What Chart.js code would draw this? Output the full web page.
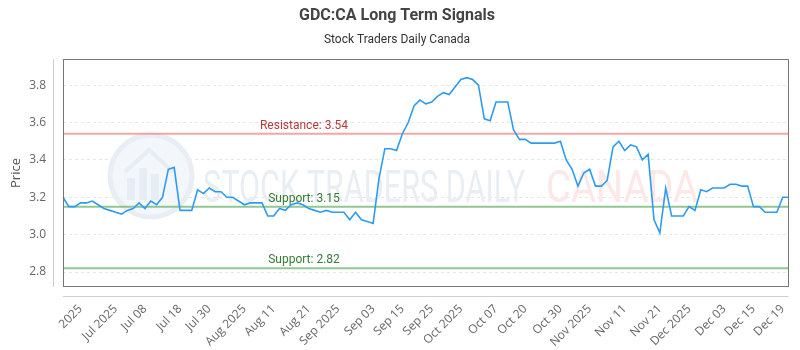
<!DOCTYPE html>
<html>
<head>
<meta charset="utf-8">
<script src="https://cdn.jsdelivr.net/npm/chart.js@4.4.0/dist/chart.umd.min.js"></script>
<style>
  html, body { margin: 0; padding: 0; background: #fff; }
</style>
</head>
<body>
<canvas id="signalChart" width="800" height="350"></canvas>
<script>
// daily closes
const prices = [
  3.20, 3.15, 3.15, 3.17, 3.17, 3.18, 3.16, 3.14, 3.13, 3.12,
  3.11, 3.13, 3.14, 3.17, 3.14, 3.18, 3.16, 3.20, 3.35, 3.36,
  3.13, 3.13, 3.13, 3.24, 3.22, 3.25, 3.23, 3.23, 3.20, 3.20,
  3.18, 3.16, 3.17, 3.17, 3.17, 3.10, 3.10, 3.14, 3.13, 3.16,
  3.17, 3.16, 3.14, 3.13, 3.12, 3.13, 3.12, 3.12, 3.12, 3.08,
  3.12, 3.08, 3.07, 3.06, 3.30, 3.46, 3.46, 3.45, 3.54, 3.60,
  3.69, 3.72, 3.70, 3.71, 3.74, 3.76, 3.75, 3.79, 3.83, 3.84,
  3.83, 3.80, 3.62, 3.61, 3.71, 3.71, 3.71, 3.56, 3.51, 3.51,
  3.49, 3.49, 3.49, 3.49, 3.49, 3.50, 3.40, 3.35, 3.26, 3.33,
  3.35, 3.26, 3.26, 3.29, 3.47, 3.50, 3.45, 3.48, 3.47, 3.40,
  3.43, 3.08, 3.01, 3.25, 3.10, 3.10, 3.10, 3.15, 3.13, 3.24,
  3.23, 3.25, 3.25, 3.25, 3.27, 3.27, 3.26, 3.26, 3.15, 3.15,
  3.12, 3.12, 3.12, 3.20, 3.20
];

// which points carry a date label, and the label text
const tickIndex = [3, 9, 14, 20, 25, 31, 36, 42, 47, 53, 58, 63, 68, 74, 79, 85, 90, 96, 102, 107, 113, 118, 123];
const tickLabels = ['2025', 'Jul 2025', 'Jul 08', 'Jul 18', 'Jul 30', 'Aug 2025', 'Aug 11', 'Aug 21',
  'Sep 2025', 'Sep 03', 'Sep 15', 'Sep 25', 'Oct 2025', 'Oct 07', 'Oct 20', 'Oct 30', 'Nov 2025',
  'Nov 11', 'Nov 21', 'Dec 2025', 'Dec 03', 'Dec 15', 'Dec 19'];

// signal levels
const levelValues = [3.54, 3.15, 2.82];
const levelNames = ['Resistance', 'Support', 'Support'];

const levelStyle = [
  { line: 'rgba(238, 120, 120, 0.65)', text: '#b33a3a' },
  { line: 'rgba(110, 180, 110, 0.75)', text: '#357a35' },
  { line: 'rgba(110, 180, 110, 0.75)', text: '#357a35' }
];

const watermark = {
  id: 'watermark',
  beforeDatasetsDraw(chart) {
    const ctx = chart.ctx;
    const ca = chart.chartArea;
    ctx.save();
    // round logo
    const cx = ca.left + 88, cy = ca.top + 117;
    ctx.fillStyle = '#f3f6fb';
    ctx.beginPath();
    ctx.arc(cx, cy, 41, 0, Math.PI * 2);
    ctx.fill();
    ctx.strokeStyle = '#e9eef5';
    ctx.lineWidth = 5;
    ctx.stroke();
    ctx.fillStyle = '#e7edf5';
    ctx.fillRect(cx - 24, cy + 2, 8, 22);
    ctx.fillRect(cx - 12, cy - 8, 8, 32);
    ctx.fillRect(cx, cy - 2, 8, 26);
    ctx.beginPath();
    ctx.moveTo(cx - 26, cy - 4);
    ctx.lineTo(cx - 2, cy - 26);
    ctx.lineTo(cx + 22, cy - 4);
    ctx.lineWidth = 4;
    ctx.strokeStyle = '#e7edf5';
    ctx.stroke();

    // brand text, squeezed to a condensed width
    const drawSqueezed = (txt, x, w, color) => {
      ctx.font = '44px Roboto';
      const m = ctx.measureText(txt).width;
      ctx.save();
      ctx.translate(x, ca.top + 143);
      ctx.scale(w / m, 1);
      ctx.fillStyle = color;
      ctx.textBaseline = 'alphabetic';
      ctx.fillText(txt, 0, 0);
      ctx.restore();
    };
    drawSqueezed('STOCK TRADERS DAILY', ca.left + 140, 322, '#e9eef5');
    drawSqueezed('CANADA', ca.left + 483, 152, '#fde7e7');
    ctx.restore();
  }
};

const signalLevels = {
  id: 'signalLevels',
  beforeDatasetsDraw(chart) {
    const ctx = chart.ctx;
    const ca = chart.chartArea;
    const y = chart.scales.y;
    ctx.save();
    levelValues.forEach((v, i) => {
      const py = y.getPixelForValue(v);
      ctx.strokeStyle = levelStyle[i].line;
      ctx.lineWidth = 2;
      ctx.beginPath();
      ctx.moveTo(ca.left, py);
      ctx.lineTo(ca.right, py);
      ctx.stroke();
      ctx.fillStyle = levelStyle[i].text;
      ctx.font = '12px Roboto';
      ctx.textAlign = 'center';
      ctx.textBaseline = 'middle';
      ctx.fillText(levelNames[i] + ': ' + v.toFixed(2), ca.left + 241, py - 8);
    });
    ctx.restore();
  }
};

const frame = {
  id: 'frame',
  afterDraw(chart) {
    const ctx = chart.ctx;
    const ca = chart.chartArea;
    ctx.save();
    ctx.strokeStyle = '#cfcfcf';
    ctx.lineWidth = 1;
    ctx.beginPath();
    ctx.moveTo(ca.left - 9.5, ca.top);
    ctx.lineTo(ca.left - 9.5, ca.bottom);
    ctx.moveTo(ca.left, ca.bottom + 9.5);
    ctx.lineTo(ca.right, ca.bottom + 9.5);
    ctx.stroke();
    ctx.strokeStyle = '#777';
    ctx.strokeRect(Math.round(ca.left) + 0.5, Math.round(ca.top) + 0.5,
      Math.round(ca.right - ca.left) - 1, Math.round(ca.bottom - ca.top) - 1);
    ctx.restore();
  }
};

const ctx = document.getElementById('signalChart').getContext('2d');

const signalChart = new Chart(ctx, {
  type: 'line',
  data: {
    labels: prices.map((p, i) => i),
    datasets: [{
      label: 'GDC:CA',
      data: prices,
      borderColor: '#2d9cf0',
      borderWidth: 1.6,
      pointRadius: 0,
      tension: 0,
      fill: false
    }]
  },
  options: {
    responsive: false,
    animation: false,
    layout: { padding: { left: 4, right: 10, top: 0, bottom: 0 } },
    plugins: {
      legend: { display: false },
      tooltip: { enabled: false },
      title: {
        display: true,
        text: 'GDC:CA Long Term Signals',
        color: '#444',
        font: { family: 'Roboto', size: 16, weight: 'bold' },
        padding: { top: 6, bottom: 4 }
      },
      subtitle: {
        display: true,
        text: 'Stock Traders Daily Canada',
        color: '#333',
        font: { family: 'Roboto', size: 12 },
        padding: { top: 4, bottom: 11.4 }
      }
    },
    scales: {
      x: {
        grid: { display: false },
        border: { display: false },
        ticks: {
          autoSkip: false,
          minRotation: 45,
          maxRotation: 45,
          padding: 7,
          color: '#666',
          font: { family: 'Open Sans', size: 12 },
          callback: function(val, i) {
            const k = tickIndex.indexOf(i);
            return k < 0 ? null : tickLabels[k];
          }
        },
        afterFit: function(scale) { scale.height = 63; }
      },
      y: {
        min: 2.72,
        max: 3.94,
        grid: { color: '#e6e6e6', drawTicks: false },
        border: { display: false, dash: [3, 3] },
        ticks: {
          stepSize: 0.2,
          includeBounds: false,
          padding: 17,
          color: '#666',
          font: { family: 'Open Sans', size: 12 },
          callback: function(v) { return v.toFixed(1); }
        },
        title: {
          display: true,
          text: 'Price',
          color: '#555',
          font: { family: 'Open Sans', size: 13 }
        },
        afterFit: function(scale) { scale.width = 59; }
      }
    }
  },
  plugins: [watermark, signalLevels, frame]
});
</script>
</body>
</html>
